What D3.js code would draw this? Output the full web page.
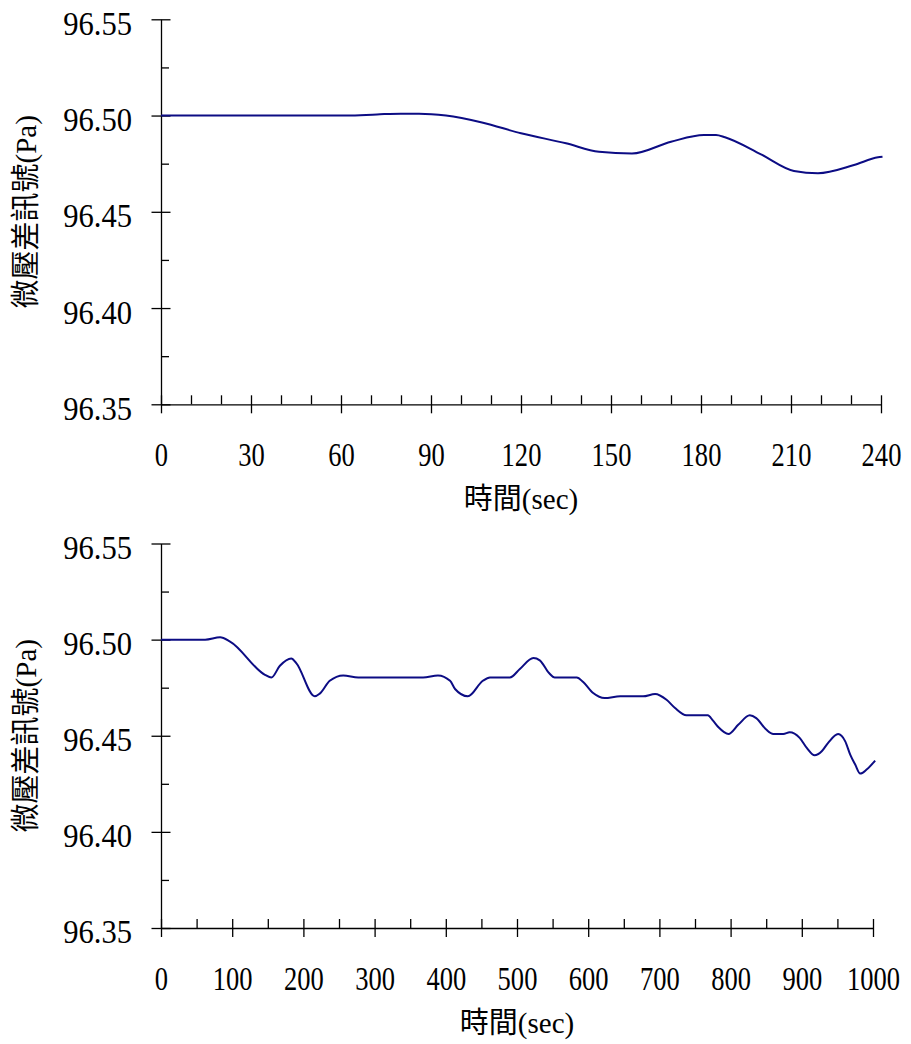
<!DOCTYPE html>
<html>
<head>
<meta charset="utf-8">
<script src="https://cdn.jsdelivr.net/npm/d3@7"></script>
<style>
  body { margin: 0; background: #fff; }
  svg { display: block; }
  text { font-family: "Liberation Serif", "Noto Sans CJK TC", serif; fill: #000; }
</style>
</head>
<body>
<svg width="911" height="1044"></svg>
<script>
// 上圖: 0~240 秒
let topTime = [0, 62, 72, 80, 86, 95, 107, 120, 135, 146, 157, 170, 181, 185, 188, 200, 211, 219, 231, 239, 240.5];
let topValue = [96.500, 96.500, 96.5006, 96.501, 96.501, 96.500, 96.4964, 96.4908, 96.4856, 96.4812, 96.4803,
    96.4864, 96.4899, 96.4899, 96.4887, 96.4798, 96.4712, 96.4700, 96.4743, 96.4783, 96.4786];

// 下圖: 0~1000 秒
let botTime = [0, 62, 83, 97, 146, 155, 167, 183, 190, 216, 223, 237, 256, 277, 368, 389, 406, 413, 431,
    452, 462, 490, 504, 523, 532, 545, 553, 584, 593, 607, 623, 645, 677, 694, 710, 722, 738, 768, 775,
    783, 797, 811, 827, 836, 850, 860, 874, 883, 897, 907, 918, 928, 937, 951, 961, 968, 975, 982, 991, 1003];
let botValue = [96.500, 96.500, 96.5012, 96.499, 96.4817, 96.4803, 96.4864, 96.4902, 96.4878, 96.4705,
    96.4719, 96.4786, 96.4814, 96.4803, 96.4803, 96.4814, 96.4786, 96.4743, 96.4705,
    96.4786, 96.4803, 96.4803, 96.4847, 96.4904, 96.4892, 96.4826, 96.4803, 96.4803, 96.4779, 96.4722,
    96.4696, 96.4705, 96.4705, 96.4717, 96.4687, 96.4644, 96.4606, 96.4606, 96.458,
    96.4544, 96.4509, 96.4558, 96.4606, 96.4592, 96.4532, 96.4509, 96.4509, 96.4518, 96.4489, 96.4437,
    96.4398, 96.4419, 96.4463, 96.4509, 96.4471, 96.4402, 96.435, 96.4303, 96.4324, 96.4371];

let yMajor = [96.35, 96.40, 96.45, 96.50, 96.55];
let yMinor = [96.375, 96.425, 96.475, 96.525];
let topXMajor = [0, 30, 60, 90, 120, 150, 180, 210, 240];
let botXMajor = [0, 100, 200, 300, 400, 500, 600, 700, 800, 900, 1000];

let xTitle = "時間(sec)";
let yTitle = "微壓差訊號(Pa)";

let svg = d3.select("svg");

function drawChart(cfg) {
    let x = d3.scaleLinear().domain([0, cfg.xMax]).range([161, cfg.xEnd]);
    let y = d3.scaleLinear().domain([96.35, 96.55]).range([cfg.yBottom, cfg.yTop]);
    let g = svg.append("g");

    // 次刻度 (只畫在圖內)
    let xMinor = d3.range(0, cfg.xMax + 1, cfg.minorStep).filter(v => cfg.xMajor.indexOf(v) < 0);
    g.append("g")
        .attr("transform", `translate(0, ${cfg.yBottom})`)
        .call(d3.axisBottom(x).tickValues(xMinor).tickSize(-9).tickSizeOuter(0).tickFormat(""))
        .call(a => a.select(".domain").remove());
    g.append("g")
        .attr("transform", `translate(161, 0)`)
        .call(d3.axisLeft(y).tickValues(yMinor).tickSize(-8).tickSizeOuter(0).tickFormat(""))
        .call(a => a.select(".domain").remove());

    // X 軸
    let ax = g.append("g")
        .attr("transform", `translate(0, ${cfg.yBottom})`)
        .call(d3.axisBottom(x).tickValues(cfg.xMajor).tickSizeOuter(0).tickFormat(d3.format("d")));
    ax.selectAll(".tick line").attr("y1", -9).attr("y2", 9);
    ax.selectAll(".tick text")
        .attr("y", 62).attr("dy", 0)
        .attr("transform", "scale(0.78,1)")
        .style("font-size", "34px");

    // Y 軸
    let ay = g.append("g")
        .attr("transform", `translate(161, 0)`)
        .call(d3.axisLeft(y).tickValues(yMajor).tickSizeOuter(0).tickFormat(d3.format(".2f")));
    ay.selectAll(".tick line").attr("x1", -9.5).attr("x2", 9.5);
    ay.selectAll(".tick text")
        .attr("x", -29 / 0.9).attr("dy", "0.44em")
        .attr("transform", "scale(0.9,1)")
        .style("font-size", "34px");

    svg.selectAll(".domain, .tick line").attr("stroke", "#000").attr("stroke-width", 1.3);
    svg.selectAll(".tick text").attr("fill", "#000").attr("font-family", null);

    // 標題
    g.append("text")
        .attr("x", (161 + cfg.xEnd) / 2)
        .attr("y", cfg.yBottom + 105)
        .attr("text-anchor", "middle")
        .style("font-size", "29px")
        .text(xTitle);
    g.append("text")
        .attr("transform", `translate(36, ${(cfg.yTop + cfg.yBottom) / 2}) rotate(-90)`)
        .attr("text-anchor", "middle")
        .style("font-size", "29px")
        .text(yTitle);

    // 曲線
    let data = cfg.t.map((t, i) => ({ x: t, f: cfg.v[i] }));
    let lineF = d3.line()
        .x(d => x(d.x))
        .y(d => y(d.f))
        .curve(d3.curveMonotoneX);
    g.append("path")
        .datum(data)
        .attr("d", lineF)
        .attr("fill", "none")
        .attr("stroke", "#0c0c84")
        .attr("stroke-width", 2);
}

drawChart({ t: topTime, v: topValue, xMax: 240, xEnd: 881, yTop: 19.3, yBottom: 404.3,
    xMajor: topXMajor, minorStep: 10 });
drawChart({ t: botTime, v: botValue, xMax: 1000, xEnd: 873, yTop: 543.5, yBottom: 928,
    xMajor: botXMajor, minorStep: 50 });
</script>
</body>
</html>
